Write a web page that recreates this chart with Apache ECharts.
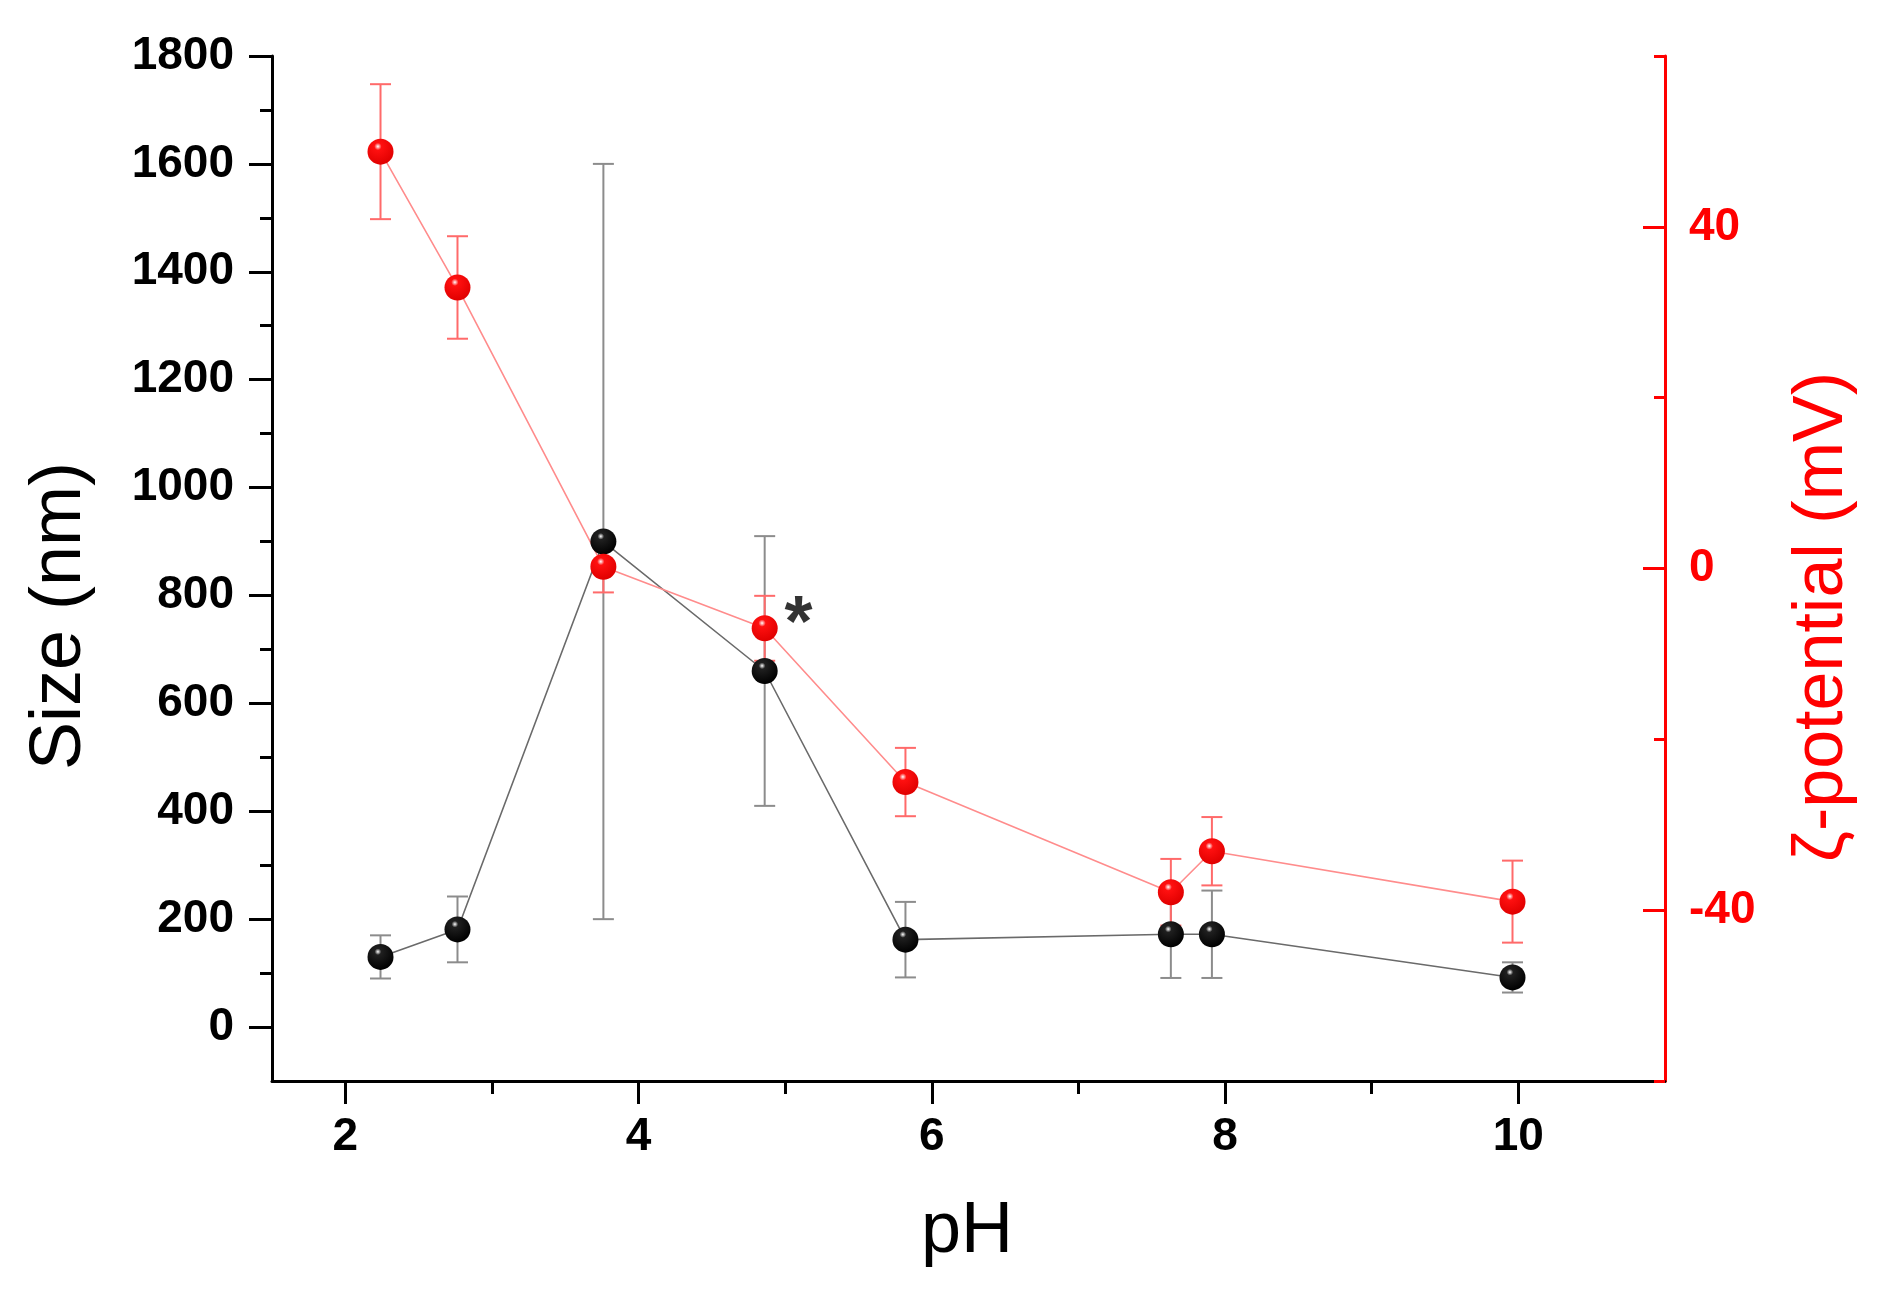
<!DOCTYPE html>
<html>
<head>
<meta charset="utf-8">
<title>Size and zeta potential vs pH</title>
<script src="https://cdn.jsdelivr.net/npm/echarts@6/dist/echarts.min.js"></script>
<style>
  html, body { margin: 0; padding: 0; background: #fff; }
  #chart { width: 1877px; height: 1299px; }
</style>
</head>
<body>
<div id="chart"></div>
<script>
// values
var phValues = [2.24, 2.765, 3.76, 4.86, 5.82, 7.63, 7.91, 9.96];
var sizeNm   = [130, 181, 900, 660, 162, 172, 172, 92];
var sizeErr  = [40, 61, 700, 250, 70, 81, 81, 28];
var zetaMv   = [48.8, 32.9, 0.2, -7, -25, -37.9, -33.1, -39];
var zetaErr  = [7.9, 6, 3, 3.8, 4, 3.9, 4, 4.8];

// tick positions
var xMajorTicks = [2, 4, 6, 8, 10];
var xMinorTicks = [3, 5, 7, 9];
var sizeMajorTicks = [0, 200, 400, 600, 800, 1000, 1200, 1400, 1600, 1800];
var sizeMinorTicks = [100, 300, 500, 700, 900, 1100, 1300, 1500, 1700];
var zetaMajorTicks = [-40, 0, 40];
var zetaMinorTicks = [-60, -20, 20, 60];

// asterisk next to the pH 4.9 point
var starPoint = [5.09, -4.7];

var FONT = 'Liberation Sans';
var RED = '#ff0000';

var chart = echarts.init(document.getElementById('chart'));

// 误差棒
function errorBar(color) {
    return function (params, api) {
        var x = api.value(0);
        var lo = api.coord([x, api.value(1)]);
        var hi = api.coord([x, api.value(2)]);
        var w = 10.5;
        var st = { stroke: color, lineWidth: 2 };
        return {
            type: 'group',
            children: [
                { type: 'line', shape: { x1: lo[0], y1: lo[1], x2: hi[0], y2: hi[1] }, style: st },
                { type: 'line', shape: { x1: lo[0] - w, y1: lo[1], x2: lo[0] + w, y2: lo[1] }, style: st },
                { type: 'line', shape: { x1: hi[0] - w, y1: hi[1], x2: hi[0] + w, y2: hi[1] }, style: st }
            ]
        };
    };
}

function sphere(light, mid, dark, midAt) {
    return {
        type: 'radial', x: 0.4, y: 0.3, r: 0.7,
        colorStops: [
            { offset: 0, color: light },
            { offset: midAt, color: mid },
            { offset: 1, color: dark }
        ]
    };
}

// ticks-only overlay axis
function tickAxis(kind, min, max, pos, values, len, inside, color) {
    var a = {
        type: 'value', min: min, max: max, position: pos,
        axisLine: { show: false, onZero: false },
        axisTick: { show: true, inside: inside, length: len, lineStyle: { width: 3, color: color }, customValues: values },
        axisLabel: { show: false },
        splitLine: { show: false }
    };
    return a;
}

var sizePts = phValues.map(function (x, i) { return [x, sizeNm[i]]; });
var sizeBars = phValues.map(function (x, i) { return [x, sizeNm[i] - sizeErr[i], sizeNm[i] + sizeErr[i]]; });
var zetaPts = phValues.map(function (x, i) { return [x, zetaMv[i]]; });
var zetaBars = phValues.map(function (x, i) { return [x, zetaMv[i] - zetaErr[i], zetaMv[i] + zetaErr[i]]; });

function plain(v) { return String(v); }
var tickLabelStyle = { fontFamily: FONT, fontWeight: 'bold', fontSize: 46, color: '#000', formatter: plain };

var option = {
    animation: false,
    backgroundColor: '#fff',
    grid: { left: 272, right: 212, top: 56, bottom: 218, outerBoundsMode: 'none' },
    xAxis: [
        {
            type: 'value', min: 1.5, max: 11, position: 'bottom',
            axisLine: { show: true, onZero: false, lineStyle: { color: '#000', width: 3 } },
            axisTick: { show: false },
            axisLabel: Object.assign({ margin: 33, customValues: xMajorTicks }, tickLabelStyle),
            splitLine: { show: false }
        },
        tickAxis('x', 1.5, 11, 'bottom', xMajorTicks, 23, false, '#000'),
        tickAxis('x', 1.5, 11, 'bottom', xMinorTicks, 13, false, '#000')
    ],
    yAxis: [
        {
            type: 'value', min: -100, max: 1800, position: 'left',
            axisLine: { show: true, onZero: false, lineStyle: { color: '#000', width: 3 } },
            axisTick: { show: true, inside: false, length: 23, lineStyle: { width: 3, color: '#000' }, customValues: sizeMajorTicks },
            axisLabel: Object.assign({ margin: 38, customValues: sizeMajorTicks }, tickLabelStyle),
            splitLine: { show: false }
        },
        tickAxis('y', -100, 1800, 'left', sizeMinorTicks, 12, false, '#000'),
        {
            type: 'value', min: -60, max: 60, position: 'right',
            axisLine: { show: true, onZero: false, lineStyle: { color: RED, width: 3 } },
            axisTick: { show: true, inside: true, length: 22, lineStyle: { width: 3, color: RED }, customValues: zetaMajorTicks },
            axisLabel: Object.assign({}, tickLabelStyle, { color: RED, margin: 24, customValues: zetaMajorTicks }),
            splitLine: { show: false }
        },
        tickAxis('y', -60, 60, 'right', zetaMinorTicks, 11, true, RED)
    ],
    graphic: [
        {
            type: 'text', x: 60, y: 616, rotation: Math.PI / 2,
            style: { text: 'Size (nm)', font: '72px "' + FONT + '"', fill: '#000', textAlign: 'center', textVerticalAlign: 'middle' }
        },
        {
            type: 'text', x: 1823, y: 617, rotation: Math.PI / 2,
            style: { text: 'ζ-potential (mV)', font: '70px "' + FONT + '"', fill: RED, textAlign: 'center', textVerticalAlign: 'middle' }
        },
        {
            type: 'text', x: 967, y: 1232,
            style: { text: 'pH', font: '72px "' + FONT + '"', fill: '#000', textAlign: 'center', textVerticalAlign: 'middle' }
        }
    ],
    series: [
        {
            type: 'custom', name: 'sizeErr', xAxisIndex: 0, yAxisIndex: 0,
            renderItem: errorBar('#8c8c8c'), encode: { x: 0, y: [1, 2] },
            data: sizeBars, clip: false, silent: true
        },
        {
            type: 'line', name: 'Size', xAxisIndex: 0, yAxisIndex: 0,
            data: sizePts, symbol: 'circle', symbolSize: 26,
            lineStyle: { color: '#6a6a6a', width: 1.6 },
            itemStyle: { color: sphere('#ffffff', '#202020', '#000000', 0.18), borderWidth: 0 }
        },
        {
            type: 'custom', name: 'zetaErr', xAxisIndex: 0, yAxisIndex: 2,
            renderItem: errorBar('#ff6a6a'), encode: { x: 0, y: [1, 2] },
            data: zetaBars, clip: false, silent: true
        },
        {
            type: 'line', name: 'zeta', xAxisIndex: 0, yAxisIndex: 2,
            data: zetaPts, symbol: 'circle', symbolSize: 26,
            lineStyle: { color: '#ff8c8c', width: 1.6 },
            itemStyle: { color: sphere('#ffffff', '#ff1010', '#e00000', 0.2), borderWidth: 0 }
        },
        {
            type: 'scatter', name: 'star', xAxisIndex: 0, yAxisIndex: 2,
            data: [starPoint], symbolSize: 0, silent: true,
            label: {
                show: true, position: 'inside', formatter: '*', offset: [0, 17],
                fontFamily: FONT, fontWeight: 'bold', fontSize: 72, color: '#000'
            }
        }
    ]
};

chart.setOption(option);
</script>
</body>
</html>
